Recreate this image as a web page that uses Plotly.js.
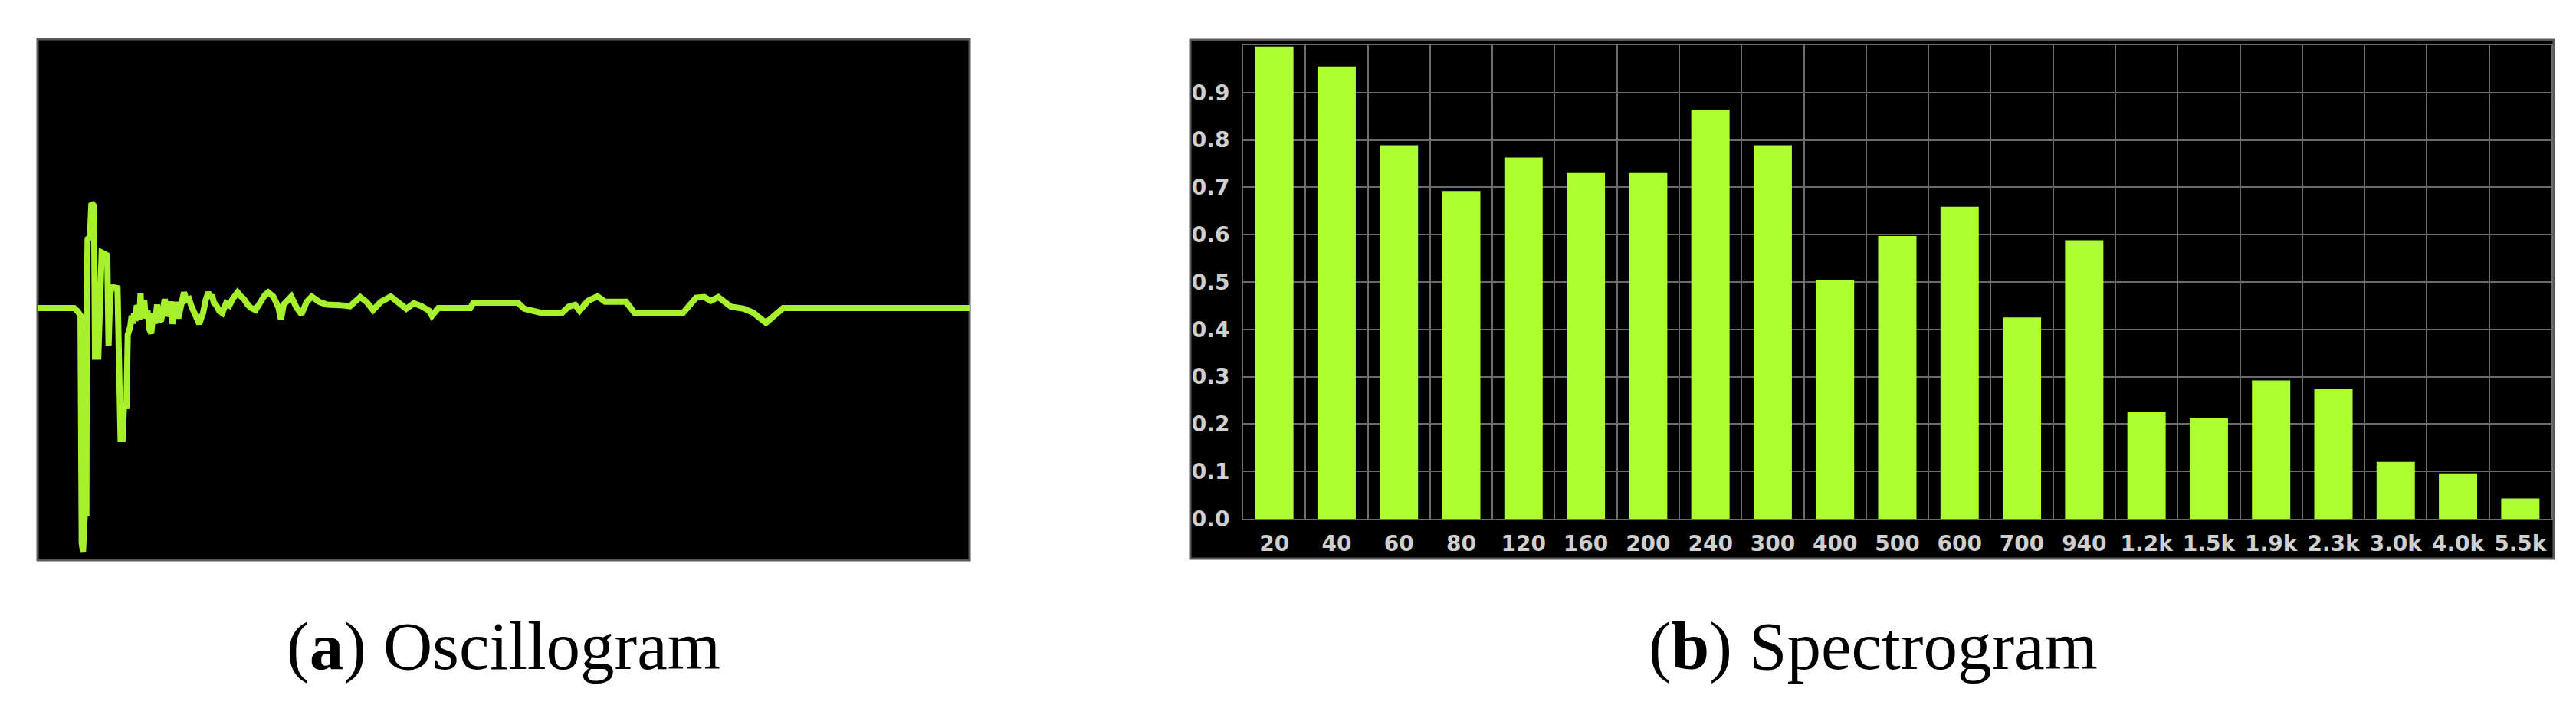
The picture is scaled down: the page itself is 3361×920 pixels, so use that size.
<!DOCTYPE html>
<html>
<head>
<meta charset="utf-8">
<script src="https://cdn.plot.ly/plotly-3.0.1.min.js"></script>
<style>
  html, body { margin: 0; padding: 0; background: #ffffff; }
  #chart { width: 3361px; height: 920px; }
</style>
</head>
<body>
<div id="chart"></div>
<script>
// ---------- (a) Oscillogram: time (arbitrary units 0-100) and normalised amplitude ----------
const timeMs = [
  0, 3.92, 4.33, 4.61, 4.74, 4.88, 5.07, 5.24, 5.29, 5.37, 5.62, 5.78, 6.06, 6.17, 6.52,
  6.66, 6.88, 7.48, 7.62, 7.76, 7.89, 8.58, 8.72, 8.91, 9.13, 9.27, 9.54, 9.68, 9.95,
  10.10, 10.25, 10.36, 10.50, 10.64, 10.77, 10.92, 11.05, 11.17, 11.27, 11.45, 11.60, 11.80,
  12.01, 12.20, 12.42, 12.60, 12.83, 13.04, 13.24, 13.45, 13.65, 13.85, 14.06, 14.27, 14.48,
  14.69, 14.89, 15.10, 15.30, 15.50, 15.71, 15.98, 16.26, 16.53, 16.80, 17.08, 17.35, 17.55,
  17.76, 18.04, 18.31, 18.52, 18.72, 18.92, 19.13, 19.48, 19.82, 20.23, 20.58, 20.92, 21.46,
  21.80, 22.15, 22.50, 22.83, 23.38, 23.72, 24.07, 24.40, 24.75, 25.30, 25.85, 26.12, 26.40,
  26.80, 27.22, 27.78, 28.32, 28.87, 29.42, 30.24, 31.06, 32.43, 33.53, 34.62, 35.31, 36.00,
  36.82, 37.91, 38.73, 39.56, 40.38, 41.20, 42.03, 42.32, 43.00, 46.42, 46.76, 51.54, 52.22,
  53.93, 56.31, 57.00, 57.68, 58.16, 59.05, 60.07, 60.89, 63.14, 64.03, 69.28, 70.65, 71.54,
  72.22, 73.04, 74.40, 75.77, 76.79, 78.16, 78.84, 80.00, 100
];
const amplitude = [
  0, 0, -0.014, -0.029, -0.903, -0.935, -0.788, -0.788, 0.044, 0.265, 0.271, 0.402, 0.392, -0.187, -0.187,
  0.023, 0.213, 0.202, -0.145, 0.023, 0.081, 0.076, -0.398, -0.503, -0.503, -0.377, -0.377, -0.103, -0.072,
  -0.030, -0.060, -0.019, -0.050, 0.010, 0.002, -0.045, 0.055, -0.030, -0.008, 0.030, -0.040, -0.010,
  -0.082, -0.098, -0.019, -0.060, 0.013, -0.045, -0.051, 0.010, 0.034, -0.030, -0.019, 0.025, -0.061,
  -0.010, 0.023, -0.040, 0.002, 0.040, 0.060, 0.030, 0.034, 0.005, -0.019, -0.045, -0.061, -0.040,
  -0.019, 0.030, 0.060, 0.040, 0.049, 0.020, 0.013, -0.010, -0.019, 0.018, 0.010, 0.034, 0.060,
  0.045, 0.034, 0.015, 0.002, -0.008, 0.015, 0.034, 0.050, 0.060, 0.044, 0.002, -0.045, 0.013,
  0.030, 0.044, 0.002, -0.024, 0.023, 0.044, 0.023, 0.013, 0.011, 0.007, 0.042, 0.023, -0.008,
  0.023, 0.044, 0.023, -0.003, 0.018, 0.007, -0.011, -0.030, 0, 0, 0.020, 0.020, -0.003,
  -0.018, -0.018, 0.005, 0.012, -0.011, 0.027, 0.045, 0.024, 0.024, -0.018, -0.018, 0.039, 0.042,
  0.027, 0.042, 0.005, -0.003, -0.018, -0.057, -0.036, 0, 0
];

// ---------- (b) Spectrogram: frequency bands and relative level ----------
const bandLabels = ['20', '40', '60', '80', '120', '160', '200', '240', '300', '400', '500',
                    '600', '700', '940', '1.2k', '1.5k', '1.9k', '2.3k', '3.0k', '4.0k', '5.5k'];
const bandLevels = [0.997, 0.955, 0.789, 0.692, 0.763, 0.730, 0.730, 0.864, 0.789, 0.504, 0.597,
                    0.659, 0.425, 0.588, 0.225, 0.212, 0.292, 0.274, 0.120, 0.096, 0.043];
const levelTickVals = [0, 0.1, 0.2, 0.3, 0.4, 0.5, 0.6, 0.7, 0.8, 0.9];
const levelTickText = ['0.0', '0.1', '0.2', '0.3', '0.4', '0.5', '0.6', '0.7', '0.8', '0.9'];

const captionA = '(<b>a</b>) Oscillogram';
const captionB = '(<b>b</b>) Spectrogram';

const W = 3361, H = 920;
const px = v => v / W;
const py = v => 1 - v / H;

const lime = '#adff2f';
const gridGrey = '#6b6b6b';
const labelFont = { family: 'DejaVu Sans, Verdana, sans-serif', size: 28, color: '#cfcfcf', weight: 'bold' };

const traces = [
  {
    type: 'scatter', mode: 'lines',
    x: timeMs, y: amplitude,
    xaxis: 'x', yaxis: 'y',
    line: { color: '#a6f02c', width: 8, shape: 'linear' },
    hoverinfo: 'skip', showlegend: false
  },
  {
    type: 'bar',
    x: bandLabels, y: bandLevels,
    xaxis: 'x2', yaxis: 'y2',
    width: 0.615,
    marker: { color: lime, line: { width: 0 } },
    hoverinfo: 'skip', showlegend: false
  }
];

const layout = {
  width: W, height: H, autosize: false,
  margin: { l: 0, r: 0, t: 0, b: 0, pad: 0 },
  paper_bgcolor: '#ffffff',
  plot_bgcolor: '#000000',
  showlegend: false,
  xaxis: {
    domain: [px(49), px(1265)], range: [0, 100],
    showgrid: false, zeroline: false, showticklabels: false, ticks: '', showline: false,
    fixedrange: true
  },
  yaxis: {
    domain: [py(731), py(51)], range: [-0.968, 1.032],
    showgrid: false, zeroline: false, showticklabels: false, ticks: '', showline: false,
    fixedrange: true
  },
  xaxis2: {
    anchor: 'y2', type: 'category',
    domain: [px(1622), px(3329)], range: [-0.5, 20.5],
    tickson: 'boundaries', ticks: '',
    showgrid: true, gridcolor: gridGrey, gridwidth: 2,
    showline: true, mirror: true, linecolor: gridGrey, linewidth: 2,
    zeroline: false, tickfont: labelFont, ticklabelstandoff: 6,
    fixedrange: true
  },
  yaxis2: {
    anchor: 'x2',
    domain: [py(677), py(59)], range: [0, 1],
    tickvals: levelTickVals, ticktext: levelTickText, ticks: '',
    showgrid: true, gridcolor: gridGrey, gridwidth: 2,
    showline: true, mirror: true, linecolor: gridGrey, linewidth: 2,
    zeroline: false, tickfont: labelFont, ticklabelstandoff: 10,
    fixedrange: true
  },
  shapes: [
    { type: 'rect', xref: 'paper', yref: 'paper', layer: 'below',
      x0: px(49), x1: px(1265), y0: py(731), y1: py(51),
      fillcolor: '#000000', line: { color: '#5a5a5a', width: 3 } },
    { type: 'rect', xref: 'paper', yref: 'paper', layer: 'below',
      x0: px(1553), x1: px(3332), y0: py(729), y1: py(52),
      fillcolor: '#000000', line: { color: '#5a5a5a', width: 3 } }
  ],
  annotations: [
    { text: captionA, xref: 'paper', yref: 'paper', x: px(657), y: py(843),
      xanchor: 'center', yanchor: 'middle', showarrow: false,
      font: { family: 'Liberation Serif, Times New Roman, serif', size: 89, color: '#000000' } },
    { text: captionB, xref: 'paper', yref: 'paper', x: px(2444), y: py(843),
      xanchor: 'center', yanchor: 'middle', showarrow: false,
      font: { family: 'Liberation Serif, Times New Roman, serif', size: 89, color: '#000000' } }
  ]
};

Plotly.newPlot('chart', traces, layout, { staticPlot: true, displayModeBar: false });
</script>
</body>
</html>
